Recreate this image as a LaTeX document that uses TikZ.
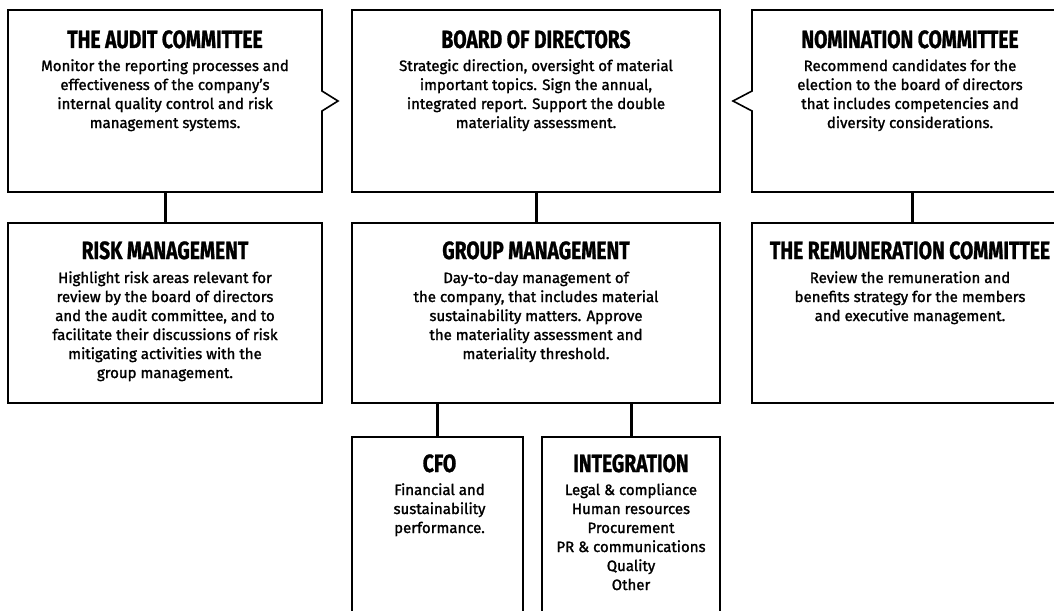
\documentclass[tikz,border=0pt]{standalone}
\usepackage{fontspec}
\setmainfont{Fira Sans}
\newfontfamily\hdfont[FakeStretch=0.77,FakeBold=1]{Fira Sans}
\newfontfamily\txfont[FakeBold=1.5]{Fira Sans}
\usetikzlibrary{positioning}

\begin{document}
\begin{tikzpicture}[x=1pt, y=-1pt, node distance=31pt and 30pt,
  panel/.style={draw, line width=1.6pt, inner sep=0pt, outer sep=0pt, minimum height=182pt},
  bubble/.style={panel, draw=none},
  head/.style={anchor=base, inner sep=0pt, font=\hdfont\bfseries\fontsize{25}{25}\selectfont},
  body/.style={anchor=base, align=center, inner sep=0pt, font=\txfont\fontsize{15}{19}\selectfont},
  link/.style={line width=3pt}]
\useasboundingbox (0,0) rectangle (1054,610);
% top row
\node[bubble, minimum width=314pt, anchor=north west] (audit) at (8,10) {};
\node[panel, minimum width=368pt, right=30pt of audit] (board) {};
\node[bubble, minimum width=320pt, right=32pt of board] (nomination) {};
% second row
\node[panel, minimum width=314pt, minimum height=180pt, below=31pt of audit] (risk) {};
\node[panel, minimum width=368pt, minimum height=180pt, below=31pt of board] (group) {};
\node[panel, minimum width=320pt, minimum height=180pt, below=31pt of nomination] (remun) {};
% bottom row
\node[panel, minimum width=171pt, minimum height=190pt, below=34pt of group.south west, anchor=north west] (cfo) {};
\node[panel, minimum width=178pt, minimum height=190pt, right=19pt of cfo] (integ) {};
% speech-bubble outlines
\draw[line width=1.6pt] (audit.north west) -- (audit.north east) -- ([yshift=10pt]audit.east)
  -- ([xshift=16pt]audit.east) -- ([yshift=-10pt]audit.east) -- (audit.south east)
  -- (audit.south west) -- cycle;
\draw[line width=1.6pt] (nomination.north east) -- (nomination.north west) -- ([yshift=10pt]nomination.west)
  -- ([xshift=-19pt]nomination.west) -- ([yshift=-10pt]nomination.west) -- (nomination.south west)
  -- (nomination.south east) -- cycle;
% texts (body nodes sit on the baseline of their last line)
\node[head] (auditHd) at ([yshift=-38pt]audit.north) {THE AUDIT COMMITTEE};
\node[body] (auditTx) at ([yshift=-118pt]audit.north) {Monitor the reporting processes and\\ effectiveness of the company’s\\ internal quality control and risk\\ management systems.};
\node[head] (boardHd) at ([yshift=-38pt]board.north) {BOARD OF DIRECTORS};
\node[body] (boardTx) at ([yshift=-118pt]board.north) {Strategic direction, oversight of material\\ important topics. Sign the annual,\\ integrated report. Support the double\\ materiality assessment.};
\node[head] (nominationHd) at ([xshift=-2pt, yshift=-38pt]nomination.north) {NOMINATION COMMITTEE};
\node[body] (nominationTx) at ([xshift=-2pt, yshift=-118pt]nomination.north) {Recommend candidates for the\\ election to the board of directors\\ that includes competencies and\\ diversity considerations.};
\node[head] (riskHd) at ([yshift=-36pt]risk.north) {RISK MANAGEMENT};
\node[body] (riskTx) at ([yshift=-155pt]risk.north) {Highlight risk areas relevant for\\ review by the board of directors\\ and the audit committee, and to\\ facilitate their discussions of risk\\ mitigating activities with the\\ group management.};
\node[head] (groupHd) at ([yshift=-36pt]group.north) {GROUP MANAGEMENT};
\node[body] (groupTx) at ([yshift=-136pt]group.north) {Day-to-day management of\\ the company, that includes material\\ sustainability matters. Approve\\ the materiality assessment and\\ materiality threshold.};
\node[head] (remunHd) at ([xshift=-2pt, yshift=-36pt]remun.north) {THE REMUNERATION COMMITTEE};
\node[body] (remunTx) at ([xshift=-2pt, yshift=-98pt]remun.north) {Review the remuneration and\\ benefits strategy for the members\\ and executive management.};
\node[head] (cfoHd) at ([xshift=2pt, yshift=-35pt]cfo.north) {CFO};
\node[body] (cfoTx) at ([xshift=2pt, yshift=-96pt]cfo.north) {Financial and\\ sustainability\\ performance.};
\node[head] (integHd) at ([yshift=-35pt]integ.north) {INTEGRATION};
\node[body] (integTx) at ([yshift=-153pt]integ.north) {Legal \& compliance\\ Human resources\\ Procurement\\ PR \& communications\\ Quality\\ Other};
% connectors
\draw[link] (audit) -- (risk);
\draw[link] (board) -- (group);
\draw[link] (nomination) -- (remun);
\draw[link] (cfo.north |- group.south) -- (cfo);
\draw[link] (integ.north |- group.south) -- (integ);
\end{tikzpicture}
\end{document}
